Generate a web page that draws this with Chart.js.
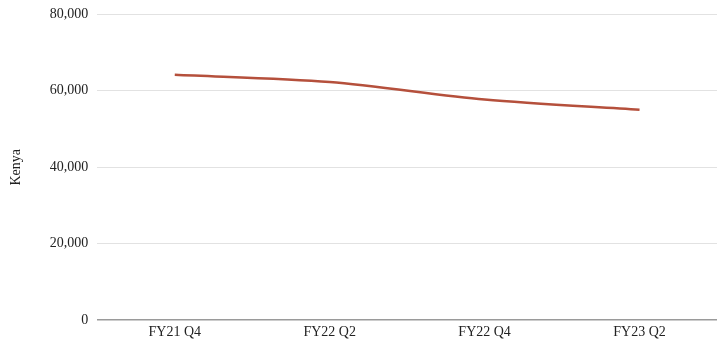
<!DOCTYPE html>
<html>
<head>
<meta charset="utf-8">
<script src="https://cdn.jsdelivr.net/npm/chart.js@4"></script>
<style>
    html, body { margin: 0; padding: 0; background: #fff; }
    #wrap { width: 717px; height: 345px; }
</style>
</head>
<body>
<div id="wrap"><canvas id="kenya_chart"></canvas></div>
<script>
var quarters = ['FY21 Q4', 'FY22 Q2', 'FY22 Q4', 'FY23 Q2'];
var kenyaValues = [64200, 62300, 57700, 55000];
var yTicks = [0, 20000, 40000, 60000, 80000];

var font = { family: '"Liberation Serif", "Times New Roman", serif', size: 14 };
// tighter line height on the value labels so the top gridline sits near the edge
var yTickFont = { family: font.family, size: 14, lineHeight: 0.75 };

var kenyaChart = new Chart(document.getElementById('kenya_chart'), {
    type: 'line',
    data: {
        labels: quarters,
        datasets: [{
            data: kenyaValues,
            borderColor: '#b5503c',
            borderWidth: 2.5,
            pointRadius: 0,
            tension: 0.3,
            fill: false
        }]
    },
    options: {
        responsive: true,
        maintainAspectRatio: false,
        animation: false,
        layout: {
            padding: { top: 1, right: 0, bottom: 0, left: 0 }
        },
        plugins: {
            legend: { display: false },
            tooltip: { enabled: false }
        },
        scales: {
            x: {
                offset: true,
                grid: { display: false, drawTicks: false },
                border: { display: false },
                ticks: { color: '#222', font: font, padding: 4, maxRotation: 0 }
            },
            y: {
                min: yTicks[0],
                max: yTicks[yTicks.length - 1],
                afterBuildTicks: function (scale) {
                    scale.ticks = yTicks.map(function (v) { return { value: v }; });
                },
                grid: {
                    drawTicks: false,
                    color: function (ctx) {
                        return ctx.tick && ctx.tick.value === 0 ? '#9a9a9a' : '#e2e2e2';
                    },
                    lineWidth: function (ctx) {
                        return ctx.tick && ctx.tick.value === 0 ? 1.5 : 1;
                    }
                },
                border: { display: false },
                ticks: {
                    color: '#222',
                    font: yTickFont,
                    padding: 9,
                    callback: function (v) { return v.toLocaleString('en-US'); }
                },
                title: {
                    display: true,
                    text: 'Kenya',
                    color: '#222',
                    font: font,
                    padding: { top: 8, bottom: 16 }
                }
            }
        }
    }
});
</script>
</body>
</html>
